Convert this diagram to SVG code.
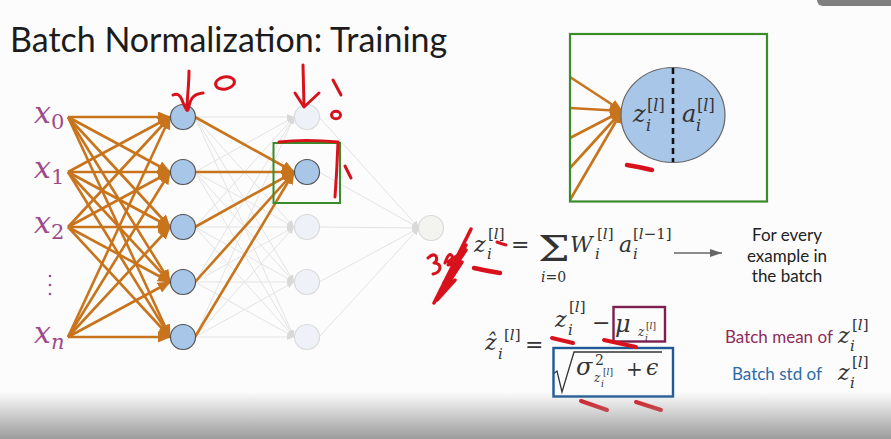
<svg xmlns="http://www.w3.org/2000/svg" width="891" height="439" viewBox="0 0 891 439">
  <defs>
    <marker id="ah" markerWidth="13" markerHeight="11" refX="12" refY="5.5" orient="auto" markerUnits="userSpaceOnUse">
      <path d="M0,0 L13,5.5 L0,11 z" fill="#c8741c"/>
    </marker>
    <marker id="ahg" markerWidth="7" markerHeight="6" refX="7" refY="3" orient="auto" markerUnits="userSpaceOnUse">
      <path d="M0,0 L7,3 L0,6 z" fill="#d9d9d9"/>
    </marker>
    <marker id="ahk" markerWidth="12" markerHeight="8" refX="12" refY="4" orient="auto" markerUnits="userSpaceOnUse">
      <path d="M0,0 L12,4 L0,8 z" fill="#666"/>
    </marker>
    <linearGradient id="fade" x1="0" y1="0" x2="0" y2="1">
      <stop offset="0" stop-color="#9c9c9c" stop-opacity="0"/>
      <stop offset="1" stop-color="#9c9c9c" stop-opacity="1"/>
    </linearGradient>
  </defs>
  <style>
    .title{font-family:Lato,"Liberation Sans",sans-serif;font-size:34px;fill:#1c1c1c}
    .m{font-family:"DejaVu Serif","Liberation Serif",serif;font-style:italic;fill:#333}
    .up{font-style:normal}
    .xl{fill:#9c4a8c}
    .w{stroke:#c8741c;stroke-width:2.6;fill:none}
    .g{stroke:#e3e3e3;stroke-width:1;fill:none}
    .n{fill:#a8c6e8;stroke:#555;stroke-width:1.2}
    .nf{fill:#eef1f7;stroke:#dadada;stroke-width:1.2}
    .red{stroke:#d8121c;stroke-width:3;fill:none;stroke-linecap:round;stroke-linejoin:round}
    .lbl{font-family:Lato,"Liberation Sans",sans-serif;font-size:17px}
  </style>

  <rect width="891" height="439" fill="#fcfcfc"/>

  <text class="title" x="10" y="52">Batch Normalization: Training</text>

  <!-- connectors -->
  <g id="connectors">
    <!-- faded hidden-layer links -->
    <g class="g" marker-end="url(#ahg)">
      <line x1="195" y1="117" x2="294" y2="117"/><line x1="195" y1="117" x2="294" y2="227"/><line x1="195" y1="117" x2="294" y2="282"/><line x1="195" y1="117" x2="294" y2="337"/>
      <line x1="195" y1="172" x2="294" y2="117"/><line x1="195" y1="172" x2="294" y2="227"/><line x1="195" y1="172" x2="294" y2="282"/><line x1="195" y1="172" x2="294" y2="337"/>
      <line x1="195" y1="227" x2="294" y2="117"/><line x1="195" y1="227" x2="294" y2="227"/><line x1="195" y1="227" x2="294" y2="282"/><line x1="195" y1="227" x2="294" y2="337"/>
      <line x1="195" y1="282" x2="294" y2="117"/><line x1="195" y1="282" x2="294" y2="227"/><line x1="195" y1="282" x2="294" y2="282"/><line x1="195" y1="282" x2="294" y2="337"/>
      <line x1="195" y1="337" x2="294" y2="117"/><line x1="195" y1="337" x2="294" y2="227"/><line x1="195" y1="337" x2="294" y2="282"/><line x1="195" y1="337" x2="294" y2="337"/>
      <line x1="319" y1="117" x2="419" y2="228"/><line x1="319" y1="172" x2="419" y2="228"/><line x1="319" y1="227" x2="419" y2="228"/><line x1="319" y1="282" x2="419" y2="228"/><line x1="319" y1="337" x2="419" y2="228"/>
    </g>
    <!-- input weights -->
    <g class="w" marker-end="url(#ah)">
      <line x1="68" y1="117" x2="170" y2="117"/><line x1="68" y1="117" x2="170" y2="172"/><line x1="68" y1="117" x2="170" y2="227"/><line x1="68" y1="117" x2="170" y2="282"/><line x1="68" y1="117" x2="170" y2="337"/>
      <line x1="68" y1="172" x2="170" y2="117"/><line x1="68" y1="172" x2="170" y2="172"/><line x1="68" y1="172" x2="170" y2="227"/><line x1="68" y1="172" x2="170" y2="282"/><line x1="68" y1="172" x2="170" y2="337"/>
      <line x1="68" y1="227" x2="170" y2="117"/><line x1="68" y1="227" x2="170" y2="172"/><line x1="68" y1="227" x2="170" y2="227"/><line x1="68" y1="227" x2="170" y2="282"/><line x1="68" y1="227" x2="170" y2="337"/>
      <line x1="68" y1="337" x2="170" y2="117"/><line x1="68" y1="337" x2="170" y2="172"/><line x1="68" y1="337" x2="170" y2="227"/><line x1="68" y1="337" x2="170" y2="282"/><line x1="68" y1="337" x2="170" y2="337"/>
      <!-- into the highlighted unit -->
      <line x1="195" y1="117" x2="294" y2="172"/><line x1="195" y1="172" x2="294" y2="172"/><line x1="195" y1="227" x2="294" y2="172"/><line x1="195" y1="282" x2="294" y2="172"/><line x1="195" y1="337" x2="294" y2="172"/>
      <!-- zoomed unit -->
      <line x1="570" y1="77" x2="622" y2="111"/><line x1="570" y1="108" x2="622" y2="111"/><line x1="570" y1="138" x2="622" y2="111"/><line x1="570" y1="168" x2="622" y2="111"/><line x1="570" y1="200" x2="622" y2="111"/>
    </g>
    <line x1="674" y1="253" x2="722" y2="253" stroke="#666" stroke-width="1.5" marker-end="url(#ahk)"/>
  </g>

  <!-- inputs -->
  <g id="inputs" class="m xl">
    <text x="34" y="123" font-size="30">x<tspan class="up" font-size="21" dy="6">0</tspan></text>
    <text x="34" y="178" font-size="30">x<tspan class="up" font-size="21" dy="6">1</tspan></text>
    <text x="34" y="233" font-size="30">x<tspan class="up" font-size="21" dy="6">2</tspan></text>
    <g fill="#9c4a8c"><circle cx="50" cy="276" r="1.3"/><circle cx="50" cy="285" r="1.3"/><circle cx="50" cy="294" r="1.3"/></g>
    <text x="34" y="343" font-size="30">x<tspan font-size="21" dy="6">n</tspan></text>
  </g>

  <!-- hidden layer 1 -->
  <g id="layer1">
    <circle class="n" cx="183" cy="117" r="12.5"/>
    <circle class="n" cx="183" cy="172" r="12.5"/>
    <circle class="n" cx="183" cy="227" r="12.5"/>
    <circle class="n" cx="183" cy="282" r="12.5"/>
    <circle class="n" cx="183" cy="337" r="12.5"/>
  </g>

  <!-- hidden layer 2 -->
  <g id="layer2">
    <circle class="nf" cx="307" cy="117" r="12.5"/>
    <circle class="n" cx="307" cy="172" r="12.5"/>
    <circle class="nf" cx="307" cy="227" r="12.5"/>
    <circle class="nf" cx="307" cy="282" r="12.5"/>
    <circle class="nf" cx="307" cy="337" r="12.5"/>
    <rect x="273.5" y="143" width="66.5" height="60" fill="none" stroke="#3a8c2a" stroke-width="2"/>
  </g>

  <g id="output">
    <circle cx="431" cy="228" r="12.5" fill="#f3f4f0" stroke="#dadada" stroke-width="1.2"/>
  </g>

  <!-- zoomed unit -->
  <g id="unit">
    <rect x="570" y="34" width="197" height="167.5" fill="none" stroke="#3a8c2a" stroke-width="2.2"/>
    <ellipse cx="673" cy="115" rx="52" ry="47.5" fill="#a8c6e8" stroke="#666" stroke-width="1.2"/>
    <line x1="673" y1="68" x2="673" y2="162" stroke="#111" stroke-width="2.6" stroke-dasharray="6,4"/>
    <text class="m" x="633" y="122" font-size="24">z</text>
    <text class="m up" x="647" y="111" font-size="16">[<tspan class="m">l</tspan>]</text>
    <text class="m" x="646" y="131" font-size="16">i</text>
    <text class="m" x="682" y="122" font-size="24">a</text>
    <text class="m up" x="697" y="111" font-size="16">[<tspan class="m">l</tspan>]</text>
    <text class="m" x="696" y="131" font-size="16">i</text>
  </g>

  <!-- pre-activation -->
  <g id="eq-z">
    <text class="m" x="474" y="251.5" font-size="22">z</text>
    <text class="m up" x="488" y="239" font-size="15">[<tspan class="m">l</tspan>]</text>
    <text class="m" x="487" y="259" font-size="15">i</text>
    <text class="m up" x="511" y="252" font-size="22">=</text>
    <text class="m up" transform="translate(538 261) scale(1.25 1)" font-size="36">Σ</text>
    <text class="m" x="541" y="282" font-size="14">i<tspan class="up">=0</tspan></text>
    <text class="m" x="570" y="251.5" font-size="22">W</text>
    <text class="m up" x="597" y="239" font-size="15">[<tspan class="m">l</tspan>]</text>
    <text class="m" x="595" y="259" font-size="15">i</text>
    <text class="m" x="619" y="251.5" font-size="22">a</text>
    <text class="m up" x="633" y="239" font-size="15">[<tspan class="m">l</tspan>−1]</text>
    <text class="m" x="633" y="259" font-size="15">i</text>
  </g>

  <g id="note-batch" class="lbl" fill="#222" text-anchor="middle">
    <text x="787" y="240.5">For every</text>
    <text x="787" y="261.5">example in</text>
    <text x="787" y="282">the batch</text>
  </g>

  <!-- normalisation -->
  <g id="eq-norm">
    <text class="m" x="485" y="350" font-size="22">ẑ</text>
    <text class="m up" x="504" y="340" font-size="15">[<tspan class="m">l</tspan>]</text>
    <text class="m" x="498" y="359" font-size="15">i</text>
    <text class="m up" x="525" y="352" font-size="22">=</text>
    <text class="m" x="555" y="327" font-size="22">z</text>
    <text class="m up" x="569" y="312" font-size="15">[<tspan class="m">l</tspan>]</text>
    <text class="m" x="568" y="335" font-size="15">i</text>
    <text class="m up" x="592" y="330" font-size="22">−</text>
    <text class="m" x="615" y="332" font-size="24">μ</text>
    <text class="m" x="638" y="336" font-size="12">z</text>
    <text class="m up" x="646" y="329" font-size="9">[<tspan class="m">l</tspan>]</text>
    <text class="m" x="645" y="341" font-size="9">i</text>
    <line x1="553" y1="348" x2="664" y2="348" stroke="#333" stroke-width="1.2"/>
    <path d="M553,374 L557,371 L562,392 L574,352 L662,352" fill="none" stroke="#333" stroke-width="1.3" stroke-linejoin="miter"/>
    <text class="m" x="576" y="375" font-size="24">σ</text>
    <text class="m up" x="595" y="365" font-size="14">2</text>
    <text class="m" x="594" y="382" font-size="12">z</text>
    <text class="m up" x="603" y="375" font-size="9">[<tspan class="m">l</tspan>]</text>
    <text class="m" x="601" y="387" font-size="9">i</text>
    <text class="m up" x="626" y="376" font-size="20">+</text>
    <text class="m" x="646" y="375" font-size="22">ϵ</text>
    <rect x="613.5" y="307" width="51.5" height="34.5" fill="none" stroke="#7d1f4f" stroke-width="2.4"/>
    <rect x="553.5" y="348" width="119.5" height="48.5" fill="none" stroke="#1f5a96" stroke-width="2.4"/>
  </g>

  <g id="legend">
    <text class="lbl" x="725" y="343" fill="#8e2a5a">Batch mean of</text>
    <text class="m" x="838" y="343" font-size="22">z</text>
    <text class="m up" x="852" y="330" font-size="15">[<tspan class="m">l</tspan>]</text>
    <text class="m" x="850" y="351" font-size="15">i</text>
    <text class="lbl" x="732" y="380" fill="#2d6aa8">Batch std of</text>
    <text class="m" x="838" y="380" font-size="22">z</text>
    <text class="m up" x="852" y="367" font-size="15">[<tspan class="m">l</tspan>]</text>
    <text class="m" x="850" y="388" font-size="15">i</text>
  </g>

  <!-- pen marks -->
  <g id="ink" class="red">
    <path d="M189,71 C189,85 187,98 187,110"/>
    <path d="M173,95 Q179,92 182,100 T187,110"/>
    <path d="M188,110 C190,100 192,94 203,93"/>
    <ellipse cx="225" cy="83" rx="9.5" ry="6" transform="rotate(-10 225 83)"/>
    <path d="M303,65 L304,106"/>
    <path d="M295,93 L304,107 L319,93"/>
    <path d="M333,80 L341,95"/>
    <ellipse cx="336" cy="115" rx="4.5" ry="3.8"/>
    <path d="M279,142 Q305,139 338,142 Q337,170 335,197"/>
    <path d="M345,166 L351,178"/>
    <path d="M428,258 Q433,253 436,256 Q438,261 434,263 Q440,263 440,268 Q439,273 433,274"/>
    <path d="M445,263 Q449,251 452,256 Q453,262 448,265 Q455,265 457,260"/>
    <path d="M471,229 L434,303" stroke-width="3.5"/>
    <path d="M466,245 L438,298" stroke-width="3.5"/>
    <path d="M448,262 L466,250 L444,283 L462,262 L440,296 L455,280 L437,300" stroke-width="3.5"/>
    <path d="M497,242 Q502,244 506,245"/>
    <path d="M474,268 Q487,271 500,273" stroke-width="4.5"/>
    <path d="M627,165 Q640,167 652,170" stroke-width="4.5"/>
    <path d="M552,338 L573,343" stroke-width="4"/>
    <path d="M604,340 L636,347" stroke-width="4"/>
    <path d="M581,401 L607,410" stroke-width="4"/>
    <path d="M636,402 L661,410" stroke-width="4"/>
  </g>

  <!-- player chrome -->
  <rect x="0" y="392" width="891" height="47" fill="url(#fade)"/>
  <rect x="817" y="-10" width="84" height="16" rx="6" fill="#7f7f7f"/>
</svg>
